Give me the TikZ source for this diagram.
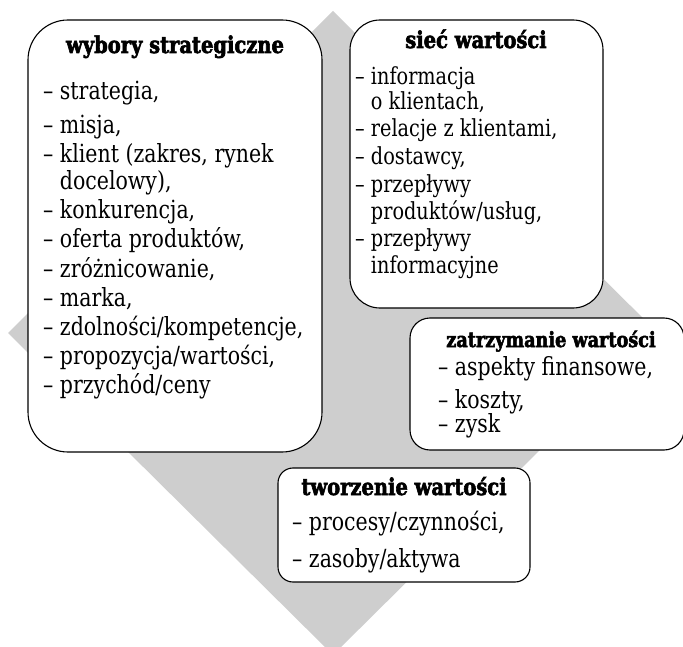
\documentclass[tikz,border=0pt]{standalone}
\usepackage{fontspec}
\setmainfont{DejaVu Serif}[FakeStretch=0.82]
\newfontfamily\ttlfont{DejaVu Serif}[FakeStretch=0.84,BoldFeatures={FakeBold=2.5}]
\begin{document}
\begin{tikzpicture}[x=1pt,y=-1pt,
  box/.style={draw=black,line width=1.1pt,fill=white},
  ttl/.style={anchor=base,inner sep=0pt,font=\ttlfont\fontsize{23.2}{27}\selectfont\bfseries},
  ttlsmall/.style={ttl,font=\ttlfont\fontsize{21}{25}\selectfont\bfseries},
  itm/.style={anchor=base west,inner sep=0pt,font=\fontsize{25}{29}\selectfont},
  itms/.style={anchor=base west,inner sep=0pt,font=\fontsize{23.5}{27}\selectfont}]
\useasboundingbox (0,0) rectangle (683,647);
\clip (0,0) rectangle (683,647);
\definecolor{diam}{RGB}{206,206,206}
\fill[diam] (333,11) -- (658,333) -- (333,655) -- (8,333) -- cycle;
% box 1
\draw[box,rounded corners=40pt] (28,20) rectangle (322,452);
\node[ttl] (t1) at (175,53) {wybory strategiczne};
\foreach \t/\y [count=\i] in {{– strategia,}/100,{– misja,}/134,{– klient (zakres, rynek}/163,{\phantom{– }docelowy),}/190,{– konkurencja,}/219,{– oferta produktów,}/248,{– zróżnicowanie,}/277,{– marka,}/306,{– zdolności/kompetencje,}/335,{– propozycja/wartości,}/364,{– przychód/ceny}/393}
  \node[itm] (a\i) at (43,\y) {\t};
% box 2
\draw[box,rounded corners=30pt] (350,20) rectangle (603,308);
\node[ttl] (t2) at (476,48) {sieć wartości};
\foreach \t/\y [count=\i] in {{– informacja}/85,{\phantom{– }o klientach,}/110,{– relacje z klientami,}/137,{– dostawcy,}/165,{– przepływy}/193,{\phantom{– }produktów/usług,}/220,{– przepływy}/247,{\phantom{– }informacyjne}/273}
  \node[itms] (b\i) at (355,\y) {\t};
% box 3
\draw[box,rounded corners=20pt] (410,318) rectangle (684,450);
\node[ttlsmall] (t3) at (551,347) {zatrzymanie wartości};
\foreach \t/\y [count=\i] in {{– aspekty finansowe,}/375,{– koszty,}/408,{– zysk}/432}
  \node[itm] (c\i) at (438,\y) {\t};
% box 4
\draw[box,rounded corners=15pt] (278,468) rectangle (530,582);
\node[ttl] (t4) at (404,495) {tworzenie wartości};
\foreach \t/\y [count=\i] in {{– procesy/czynności,}/530,{– zasoby/aktywa}/567}
  \node[itm] (d\i) at (292,\y) {\t};
\end{tikzpicture}
\end{document}
